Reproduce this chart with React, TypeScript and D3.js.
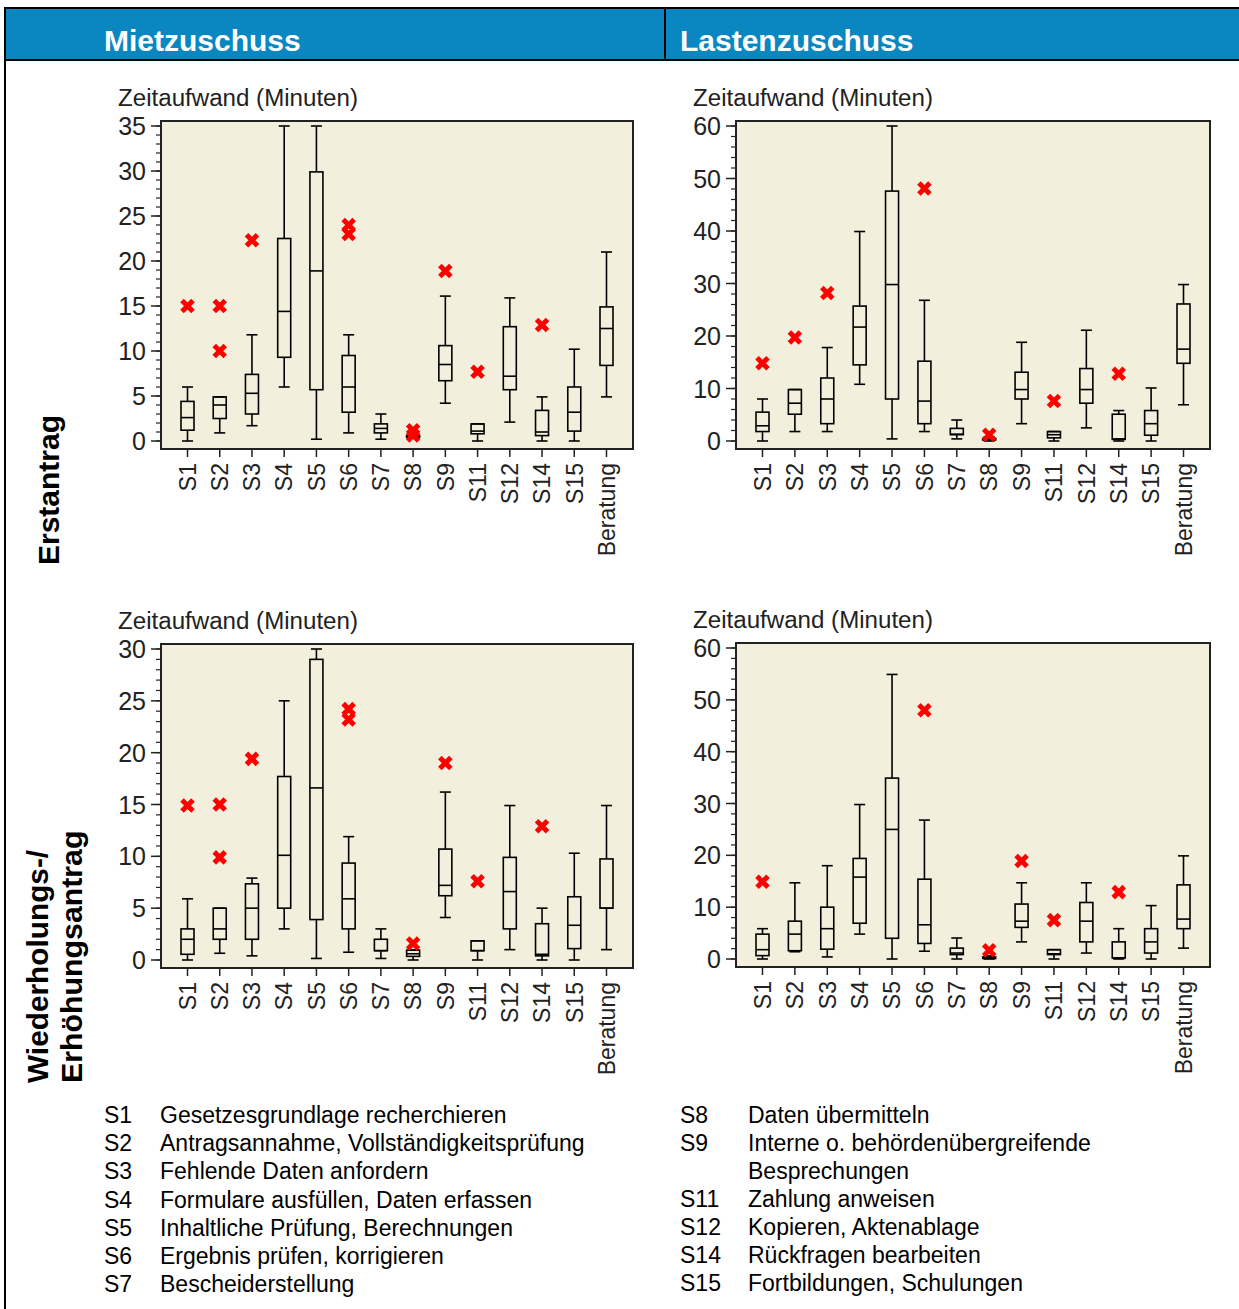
import React from 'react';
import * as d3 from 'd3';

const categories = ['S1', 'S2', 'S3', 'S4', 'S5', 'S6', 'S7', 'S8', 'S9', 'S11', 'S12', 'S14', 'S15', 'Beratung'];

// each box: [min, q1, median, q3, max] in minutes
const mietErstBoxes = [
  [0, 1.2, 2.6, 4.4, 6],
  [0.9, 2.5, 4.0, 4.9, 4.9],
  [1.7, 3.0, 5.3, 7.4, 11.8],
  [6, 9.3, 14.4, 22.5, 35],
  [0.2, 5.7, 18.9, 29.9, 35],
  [0.9, 3.2, 6.0, 9.5, 11.8],
  [0.2, 0.9, 1.4, 1.9, 3.0],
  [0.3, 0.4, 0.5, 0.6, 0.8],
  [4.2, 6.7, 8.5, 10.6, 16.1],
  [0, 0.8, 1.1, 1.9, 1.9],
  [2.1, 5.7, 7.2, 12.7, 15.9],
  [0, 0.6, 1.0, 3.4, 4.9],
  [0, 1.1, 3.2, 6.0, 10.2],
  [4.9, 8.4, 12.5, 14.9, 21.0],
];
const mietErstOutliers = [[15], [15, 10], [22.3], [], [], [24, 23], [], [1.2, 0.6], [18.9], [7.7], [], [12.9], [], []];

const lastErstBoxes = [
  [0, 1.8, 2.9, 5.5, 8.0],
  [1.8, 5.1, 7.2, 9.8, 9.8],
  [1.8, 3.3, 8.0, 12.0, 17.8],
  [10.8, 14.5, 21.7, 25.7, 39.9],
  [0.4, 8.0, 29.8, 47.6, 60],
  [1.8, 3.3, 7.6, 15.2, 26.8],
  [0.4, 1.2, 1.3, 2.4, 4.0],
  [0, 0.2, 0.3, 0.5, 0.8],
  [3.3, 8.0, 9.8, 13.1, 18.8],
  [0, 0.6, 1.2, 1.8, 1.8],
  [2.5, 7.2, 9.8, 13.8, 21.1],
  [0, 0.3, 0.4, 5.1, 5.8],
  [0, 1.1, 3.3, 5.8, 10.1],
  [6.9, 14.8, 17.5, 26.1, 29.8],
];
const lastErstOutliers = [[14.8], [19.7], [28.2], [], [], [48.1], [], [1.2], [], [7.6], [], [12.8], [], []];

const mietWdhBoxes = [
  [0, 0.55, 2.0, 3.0, 5.9],
  [0.65, 2.0, 3.0, 5.0, 5.0],
  [0.4, 2.0, 5.0, 7.35, 7.9],
  [3.0, 5.0, 10.1, 17.7, 25],
  [0.15, 3.9, 16.6, 29.0, 30],
  [0.75, 3.0, 5.9, 9.35, 11.9],
  [0.15, 0.9, 0.9, 2.0, 3.0],
  [0, 0.35, 0.6, 0.95, 0.95],
  [4.1, 6.2, 7.2, 10.7, 16.2],
  [0, 0.9, 0.9, 1.85, 1.85],
  [1.0, 3.0, 6.6, 9.9, 14.9],
  [0, 0.4, 0.55, 3.5, 5.0],
  [0, 1.1, 3.35, 6.1, 10.3],
  [1.0, 5.0, 5.0, 9.75, 14.9],
];
const mietWdhOutliers = [[14.9], [15, 9.9], [19.4], [], [], [24.2, 23.2], [], [1.6], [19.0], [7.6], [], [12.9], [], []];

const lastWdhBoxes = [
  [0, 0.65, 1.8, 4.8, 5.85],
  [1.4, 1.6, 4.8, 7.3, 14.7],
  [0.4, 1.9, 5.85, 10.0, 18.0],
  [4.8, 6.9, 15.8, 19.4, 29.8],
  [0, 4.0, 25.0, 34.9, 54.9],
  [1.5, 3.0, 6.6, 15.4, 26.8],
  [0, 0.85, 1.15, 2.1, 4.05],
  [0, 0.1, 0.2, 0.4, 0.6],
  [3.3, 6.1, 7.3, 10.6, 14.7],
  [0, 0.85, 1.0, 1.8, 1.8],
  [1.15, 3.3, 7.3, 10.9, 14.7],
  [0, 0.2, 0.2, 3.3, 5.85],
  [0, 1.15, 3.3, 5.85, 10.3],
  [2.1, 5.85, 7.7, 14.3, 19.9],
];
const lastWdhOutliers = [[14.9], [], [], [], [], [48], [], [1.7], [18.9], [7.5], [], [12.9], [], []];

const legendLeft = [
  ['S1', 'Gesetzesgrundlage recherchieren'],
  ['S2', 'Antragsannahme, Vollständigkeitsprüfung'],
  ['S3', 'Fehlende Daten anfordern'],
  ['S4', 'Formulare ausfüllen, Daten erfassen'],
  ['S5', 'Inhaltliche Prüfung, Berechnungen'],
  ['S6', 'Ergebnis prüfen, korrigieren'],
  ['S7', 'Bescheiderstellung'],
];
const legendRight = [
  ['S8', 'Daten übermitteln'],
  ['S9', 'Interne o. behördenübergreifende'],
  ['', 'Besprechungen'],
  ['S11', 'Zahlung anweisen'],
  ['S12', 'Kopieren, Aktenablage'],
  ['S14', 'Rückfragen bearbeiten'],
  ['S15', 'Fortbildungen, Schulungen'],
];

const AXIS_FONT = '"Liberation Sans", Arial, sans-serif';
const BOX_W = 13;

type PanelProps = {
  left: number; right: number; top: number; bottom: number;
  yMax: number; major: number; minor: number;
  boxes: number[][]; outliers: number[][];
};

function Panel({ left, right, top, bottom, yMax, major, minor, boxes, outliers }: PanelProps) {
  const x = d3.scalePoint<string>().domain(categories).range([left + 26.5, right - 26.5]);
  const y = d3.scaleLinear().domain([0, yMax]).range([bottom - 8, top + 5]);
  const minorTicks = d3.range(0, yMax + 0.001, minor);
  const majorTicks = d3.range(0, yMax + 0.001, major);
  const half = BOX_W / 2;

  return (
    <g>
      <text x={left - 43} y={top - 15} fontFamily={AXIS_FONT} fontSize={23} fill="#222"
        textLength={240} lengthAdjust="spacingAndGlyphs">Zeitaufwand (Minuten)</text>
      <rect x={left} y={top} width={right - left} height={bottom - top} fill="#F2F0DD" stroke="#222" strokeWidth={2} />
      {/* y axis */}
      <line x1={left} x2={left} y1={y(yMax)} y2={y(0)} stroke="#222" strokeWidth={1.5} />
      {minorTicks.map(t => (
        <line key={'m' + t} x1={left - 5} x2={left} y1={y(t)} y2={y(t)} stroke="#222" strokeWidth={1.2} />
      ))}
      {majorTicks.map(t => (
        <g key={'M' + t}>
          <line x1={left - 10} x2={left} y1={y(t)} y2={y(t)} stroke="#222" strokeWidth={1.5} />
          <text x={left - 15} y={y(t)} dy="0.36em" textAnchor="end" fontFamily={AXIS_FONT} fontSize={25} fill="#222">{t}</text>
        </g>
      ))}
      {/* x axis */}
      {categories.map(c => (
        <g key={c}>
          <line x1={x(c)} x2={x(c)} y1={bottom} y2={bottom + 8} stroke="#222" strokeWidth={1.5} />
          <text transform={`translate(${x(c)},${bottom + 14}) rotate(-90)`} textAnchor="end" dy="0.36em"
            fontFamily={AXIS_FONT} fontSize={23} fill="#222">{c}</text>
        </g>
      ))}
      {/* boxes */}
      {boxes.map((b, i) => {
        const cx = x(categories[i]) as number;
        const [lo, q1, med, q3, hi] = b;
        return (
          <g key={i} stroke="#000" strokeWidth={1.6} fill="none">
            <line x1={cx} x2={cx} y1={y(hi)} y2={y(q3)} />
            <line x1={cx} x2={cx} y1={y(q1)} y2={y(lo)} />
            <line x1={cx - half + 1} x2={cx + half - 1} y1={y(hi)} y2={y(hi)} />
            <line x1={cx - half + 1} x2={cx + half - 1} y1={y(lo)} y2={y(lo)} />
            <rect x={cx - half} y={y(q3)} width={BOX_W} height={Math.max(y(q1) - y(q3), 1)} />
            <line x1={cx - half} x2={cx + half} y1={y(med)} y2={y(med)} />
          </g>
        );
      })}
      {outliers.map((os, i) => os.map((v, j) => {
        const cx = x(categories[i]) as number;
        const cy = y(v);
        return (
          <path key={i + '-' + j} d={`M${cx - 5.5},${cy - 5.5}L${cx + 5.5},${cy + 5.5}M${cx + 5.5},${cy - 5.5}L${cx - 5.5},${cy + 5.5}`}
            stroke="#FF0000" strokeWidth={5} fill="none" />
        );
      }))}
    </g>
  );
}

export default function App() {
  const legendFont = '"Liberation Sans", Arial, sans-serif';
  return (
    <svg width={1239} height={1309} style={{ position: 'absolute', left: 0, top: 0, background: '#fff' }}>
      {/* header band */}
      <rect x={5} y={8} width={1234} height={52} fill="#0A86C1" />
      <line x1={5} x2={1239} y1={8} y2={8} stroke="#000" strokeWidth={2} />
      <line x1={5} x2={1239} y1={60} y2={60} stroke="#000" strokeWidth={2} />
      <line x1={665} x2={665} y1={8} y2={60} stroke="#000" strokeWidth={2} />
      <line x1={5} x2={5} y1={7} y2={1309} stroke="#000" strokeWidth={2} />
      <text x={104} y={51} fill="#fff" fontFamily={legendFont} fontWeight="bold" fontSize={30}>Mietzuschuss</text>
      <text x={680} y={51} fill="#fff" fontFamily={legendFont} fontWeight="bold" fontSize={30}>Lastenzuschuss</text>

      {/* row labels */}
      <text transform="translate(59,565) rotate(-90)" fontFamily={legendFont} fontWeight="bold" fontSize={30} fill="#000">Erstantrag</text>
      <text transform="translate(48,1083) rotate(-90)" fontFamily={legendFont} fontWeight="bold" fontSize={29.8} fill="#000">Wiederholungs-/</text>
      <text transform="translate(82,1083) rotate(-90)" fontFamily={legendFont} fontWeight="bold" fontSize={30.3} fill="#000">Erhöhungsantrag</text>

      <Panel left={161} right={633} top={121} bottom={449} yMax={35} major={5} minor={1}
        boxes={mietErstBoxes} outliers={mietErstOutliers} />
      <Panel left={736} right={1210} top={121} bottom={449} yMax={60} major={10} minor={2}
        boxes={lastErstBoxes} outliers={lastErstOutliers} />
      <Panel left={161} right={633} top={644} bottom={968} yMax={30} major={5} minor={1}
        boxes={mietWdhBoxes} outliers={mietWdhOutliers} />
      <Panel left={736} right={1210} top={643} bottom={967} yMax={60} major={10} minor={2}
        boxes={lastWdhBoxes} outliers={lastWdhOutliers} />

      {/* legend */}
      {legendLeft.map(([k, v], i) => (
        <g key={'l' + i} fontFamily={legendFont} fontSize={23} fill="#000">
          <text x={104} y={1123 + i * 28.2}>{k}</text>
          <text x={160} y={1123 + i * 28.2}>{v}</text>
        </g>
      ))}
      {legendRight.map(([k, v], i) => (
        <g key={'r' + i} fontFamily={legendFont} fontSize={23} fill="#000">
          <text x={680} y={1123 + i * 28}>{k}</text>
          <text x={748} y={1123 + i * 28}>{v}</text>
        </g>
      ))}
    </svg>
  );
}
